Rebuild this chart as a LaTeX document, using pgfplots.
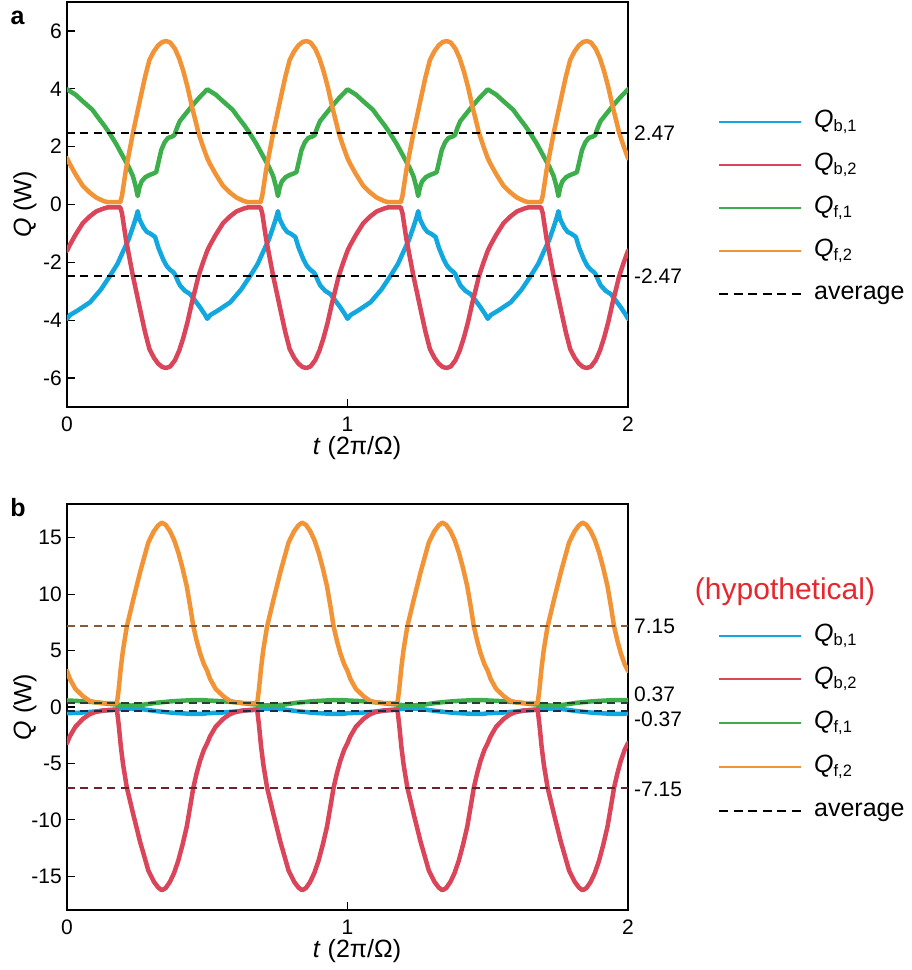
\documentclass[border=0pt]{standalone}
\usepackage{fontspec}
\setmainfont{Liberation Sans}
\usepackage{pgfplots}
\pgfplotsset{compat=1.18}
\definecolor{blueC}{RGB}{19,167,224}
\definecolor{redC}{RGB}{218,69,89}
\definecolor{greenC}{RGB}{60,175,76}
\definecolor{orangeC}{RGB}{242,147,53}
\definecolor{brownD}{RGB}{140,88,48}
\definecolor{maroonD}{RGB}{110,32,44}
\definecolor{greenD}{RGB}{36,64,46}
\definecolor{blueD}{RGB}{26,46,70}
\definecolor{hypo}{RGB}{229,40,46}
\newcommand{\sub}[1]{\raisebox{-4pt}{\fontsize{16.5}{16.5}\selectfont #1}}
\pgfplotsset{
 myaxis/.style={
  scale only axis, width=561pt, xmin=0, xmax=2, clip mode=individual,
  axis line style={line width=1.3pt, black},
  tick align=inside, tick pos=left, major tick length=8pt,
  tick style={line width=1.3pt, black},
  xtick={0,1,2}, xticklabels={0,1,2},
  ticklabel style={font=\fontsize{21}{25}\selectfont},
  yticklabel style={inner sep=0pt, xshift=-5pt},
  xticklabel style={inner sep=0pt, yshift=-10pt},
  label style={font=\fontsize{25}{30}\selectfont},
  xlabel={\textit{t} (2π/Ω)},
  ylabel={\textit{Q} (W)},
  xlabel style={at={(axis description cs:0.517,0)}, anchor=center, yshift=-41pt},
  ylabel style={at={(axis description cs:-0.075,0.5)}, anchor=center},
  legend cell align=left,
  legend image code/.code={\draw[##1] (0pt,0pt) -- (82pt,0pt);},
  legend style={draw=none, fill=none, inner sep=0pt, column sep=12pt, row sep=18pt,
    font=\fontsize{25}{29}\selectfont,
    nodes={inner sep=0pt, text height=18pt, text depth=7pt}},
 },
 curve/.style={line width=4.5pt, line join=round, line cap=round},
 avg/.style={line width=1.9pt, dash pattern=on 8pt off 5.5pt},
}
\begin{document}
\begin{tikzpicture}
\useasboundingbox (0,0) rectangle (912pt,-970pt);
\node[font=\fontsize{25}{30}\selectfont\bfseries] at (17.5pt,-17.5pt) {a};
\node[font=\fontsize{25}{30}\selectfont\bfseries] at (18pt,-508pt) {b};
% ---------------- panel a
\begin{axis}[myaxis, height=405pt, at={(67pt,-407pt)}, anchor=south west,
  ymin=-7, ymax=7, ytick={-6,-4,-2,0,2,4,6}, yticklabels={-6,-4,-2,0,2,4,6},
  legend style={at={(axis description cs:1.1604,0.7353)}, anchor=north west}]
\addlegendimage{blueC, line width=2pt}\addlegendentry{\textit{Q}\sub{b,1}}
\addlegendimage{redC, line width=2pt}\addlegendentry{\textit{Q}\sub{b,2}}
\addlegendimage{greenC, line width=2pt}\addlegendentry{\textit{Q}\sub{f,1}}
\addlegendimage{orangeC, line width=2pt}\addlegendentry{\textit{Q}\sub{f,2}}
\addlegendimage{black, line width=1.6pt, dash pattern=on 9pt off 5.5pt}\addlegendentry{average}
% Q_b1
\addplot[curve, blueC, forget plot] table {
0 -3.95
0.011 -3.82
0.04 -3.65
0.082 -3.38
0.12 -2.95
0.153 -2.47
0.18 -2.05
0.2 -1.62
0.22 -1.2
0.236 -0.75
0.246 -0.45
0.252 -0.23
0.258 -0.5
0.272 -0.78
0.285 -0.95
0.296 -1.0
0.314 -1.12
0.326 -1.5
0.343 -1.9
0.355 -2.12
0.367 -2.25
0.38 -2.35
0.385 -2.42
0.394 -2.62
0.403 -2.8
0.42 -2.98
0.439 -3.1
0.455 -3.3
0.474 -3.55
0.49 -3.78
0.5 -3.95
0.511 -3.82
0.54 -3.65
0.582 -3.38
0.62 -2.95
0.653 -2.47
0.68 -2.05
0.7 -1.62
0.72 -1.2
0.736 -0.75
0.746 -0.45
0.752 -0.23
0.758 -0.5
0.772 -0.78
0.785 -0.95
0.796 -1.0
0.814 -1.12
0.826 -1.5
0.843 -1.9
0.855 -2.12
0.867 -2.25
0.88 -2.35
0.885 -2.42
0.894 -2.62
0.903 -2.8
0.92 -2.98
0.939 -3.1
0.955 -3.3
0.974 -3.55
0.99 -3.78
1.0 -3.95
1.011 -3.82
1.04 -3.65
1.082 -3.38
1.12 -2.95
1.153 -2.47
1.18 -2.05
1.2 -1.62
1.22 -1.2
1.236 -0.75
1.246 -0.45
1.252 -0.23
1.258 -0.5
1.272 -0.78
1.285 -0.95
1.296 -1.0
1.314 -1.12
1.326 -1.5
1.343 -1.9
1.355 -2.12
1.367 -2.25
1.38 -2.35
1.385 -2.42
1.394 -2.62
1.403 -2.8
1.42 -2.98
1.439 -3.1
1.455 -3.3
1.474 -3.55
1.49 -3.78
1.5 -3.95
1.511 -3.82
1.54 -3.65
1.582 -3.38
1.62 -2.95
1.653 -2.47
1.68 -2.05
1.7 -1.62
1.72 -1.2
1.736 -0.75
1.746 -0.45
1.752 -0.23
1.758 -0.5
1.772 -0.78
1.785 -0.95
1.796 -1.0
1.814 -1.12
1.826 -1.5
1.843 -1.9
1.855 -2.12
1.867 -2.25
1.88 -2.35
1.885 -2.42
1.894 -2.62
1.903 -2.8
1.92 -2.98
1.939 -3.1
1.955 -3.3
1.974 -3.55
1.99 -3.78
2.0 -3.95
};
% Q_b2
\addplot[curve, redC, forget plot] table {
0 -1.6
0.01 -1.4
0.03 -1.05
0.056 -0.65
0.08 -0.42
0.104 -0.24
0.13 -0.14
0.145 -0.1
0.19 -0.1
0.196 -0.3
0.21 -1.2
0.235 -2.47
0.26 -3.6
0.278 -4.4
0.294 -5.0
0.31 -5.3
0.325 -5.5
0.34 -5.62
0.354 -5.65
0.368 -5.6
0.385 -5.38
0.4 -5.05
0.415 -4.6
0.43 -4.05
0.445 -3.4
0.458 -2.9
0.468 -2.5
0.485 -2.0
0.5 -1.6
0.51 -1.4
0.53 -1.05
0.556 -0.65
0.58 -0.42
0.604 -0.24
0.63 -0.14
0.645 -0.1
0.69 -0.1
0.696 -0.3
0.71 -1.2
0.735 -2.47
0.76 -3.6
0.778 -4.4
0.794 -5.0
0.81 -5.3
0.825 -5.5
0.84 -5.62
0.854 -5.65
0.868 -5.6
0.885 -5.38
0.9 -5.05
0.915 -4.6
0.93 -4.05
0.945 -3.4
0.958 -2.9
0.968 -2.5
0.985 -2.0
1.0 -1.6
1.01 -1.4
1.03 -1.05
1.056 -0.65
1.08 -0.42
1.104 -0.24
1.13 -0.14
1.145 -0.1
1.19 -0.1
1.196 -0.3
1.21 -1.2
1.235 -2.47
1.26 -3.6
1.278 -4.4
1.294 -5.0
1.31 -5.3
1.325 -5.5
1.34 -5.62
1.354 -5.65
1.368 -5.6
1.385 -5.38
1.4 -5.05
1.415 -4.6
1.43 -4.05
1.445 -3.4
1.458 -2.9
1.468 -2.5
1.485 -2.0
1.5 -1.6
1.51 -1.4
1.53 -1.05
1.556 -0.65
1.58 -0.42
1.604 -0.24
1.63 -0.14
1.645 -0.1
1.69 -0.1
1.696 -0.3
1.71 -1.2
1.735 -2.47
1.76 -3.6
1.778 -4.4
1.794 -5.0
1.81 -5.3
1.825 -5.5
1.84 -5.62
1.854 -5.65
1.868 -5.6
1.885 -5.38
1.9 -5.05
1.915 -4.6
1.93 -4.05
1.945 -3.4
1.958 -2.9
1.968 -2.5
1.985 -2.0
2.0 -1.6
};
% Q_f1
\addplot[curve, greenC, forget plot] table {
0 3.98
0.03 3.8
0.056 3.57
0.09 3.28
0.116 2.94
0.135 2.7
0.151 2.47
0.175 2.1
0.199 1.67
0.22 1.3
0.235 0.98
0.245 0.62
0.252 0.29
0.258 0.58
0.266 0.8
0.28 0.95
0.294 1.02
0.31 1.08
0.318 1.12
0.327 1.5
0.336 1.88
0.348 2.15
0.36 2.3
0.375 2.35
0.383 2.4
0.392 2.65
0.402 2.88
0.42 3.1
0.445 3.4
0.47 3.68
0.49 3.88
0.5 3.98
0.53 3.8
0.556 3.57
0.59 3.28
0.616 2.94
0.635 2.7
0.651 2.47
0.675 2.1
0.699 1.67
0.72 1.3
0.735 0.98
0.745 0.62
0.752 0.29
0.758 0.58
0.766 0.8
0.78 0.95
0.794 1.02
0.81 1.08
0.818 1.12
0.827 1.5
0.836 1.88
0.848 2.15
0.86 2.3
0.875 2.35
0.883 2.4
0.892 2.65
0.902 2.88
0.92 3.1
0.945 3.4
0.97 3.68
0.99 3.88
1.0 3.98
1.03 3.8
1.056 3.57
1.09 3.28
1.116 2.94
1.135 2.7
1.151 2.47
1.175 2.1
1.199 1.67
1.22 1.3
1.235 0.98
1.245 0.62
1.252 0.29
1.258 0.58
1.266 0.8
1.28 0.95
1.294 1.02
1.31 1.08
1.318 1.12
1.327 1.5
1.336 1.88
1.348 2.15
1.36 2.3
1.375 2.35
1.383 2.4
1.392 2.65
1.402 2.88
1.42 3.1
1.445 3.4
1.47 3.68
1.49 3.88
1.5 3.98
1.53 3.8
1.556 3.57
1.59 3.28
1.616 2.94
1.635 2.7
1.651 2.47
1.675 2.1
1.699 1.67
1.72 1.3
1.735 0.98
1.745 0.62
1.752 0.29
1.758 0.58
1.766 0.8
1.78 0.95
1.794 1.02
1.81 1.08
1.818 1.12
1.827 1.5
1.836 1.88
1.848 2.15
1.86 2.3
1.875 2.35
1.883 2.4
1.892 2.65
1.902 2.88
1.92 3.1
1.945 3.4
1.97 3.68
1.99 3.88
2.0 3.98
};
% Q_f2
\addplot[curve, orangeC, forget plot] table {
0 1.6
0.01 1.4
0.03 1.05
0.056 0.65
0.08 0.42
0.104 0.24
0.13 0.12
0.145 0.08
0.19 0.08
0.196 0.3
0.21 1.2
0.235 2.47
0.26 3.6
0.278 4.4
0.294 5.0
0.31 5.3
0.325 5.5
0.34 5.62
0.354 5.65
0.368 5.6
0.385 5.38
0.4 5.05
0.415 4.6
0.43 4.05
0.445 3.4
0.458 2.9
0.468 2.5
0.485 2.0
0.5 1.6
0.51 1.4
0.53 1.05
0.556 0.65
0.58 0.42
0.604 0.24
0.63 0.12
0.645 0.08
0.69 0.08
0.696 0.3
0.71 1.2
0.735 2.47
0.76 3.6
0.778 4.4
0.794 5.0
0.81 5.3
0.825 5.5
0.84 5.62
0.854 5.65
0.868 5.6
0.885 5.38
0.9 5.05
0.915 4.6
0.93 4.05
0.945 3.4
0.958 2.9
0.968 2.5
0.985 2.0
1.0 1.6
1.01 1.4
1.03 1.05
1.056 0.65
1.08 0.42
1.104 0.24
1.13 0.12
1.145 0.08
1.19 0.08
1.196 0.3
1.21 1.2
1.235 2.47
1.26 3.6
1.278 4.4
1.294 5.0
1.31 5.3
1.325 5.5
1.34 5.62
1.354 5.65
1.368 5.6
1.385 5.38
1.4 5.05
1.415 4.6
1.43 4.05
1.445 3.4
1.458 2.9
1.468 2.5
1.485 2.0
1.5 1.6
1.51 1.4
1.53 1.05
1.556 0.65
1.58 0.42
1.604 0.24
1.63 0.12
1.645 0.08
1.69 0.08
1.696 0.3
1.71 1.2
1.735 2.47
1.76 3.6
1.778 4.4
1.794 5.0
1.81 5.3
1.825 5.5
1.84 5.62
1.854 5.65
1.868 5.6
1.885 5.38
1.9 5.05
1.915 4.6
1.93 4.05
1.945 3.4
1.958 2.9
1.968 2.5
1.985 2.0
2.0 1.6
};
\addplot[avg, black, forget plot] coordinates {(0,2.47) (2,2.47)};
\addplot[avg, black, forget plot] coordinates {(0,-2.47) (2,-2.47)};
\node[anchor=west, font=\fontsize{21}{25}\selectfont, inner sep=0pt, xshift=6pt] at (axis cs:2,2.47) {2.47};
\node[anchor=west, font=\fontsize{21}{25}\selectfont, inner sep=0pt, xshift=6pt] at (axis cs:2,-2.47) {-2.47};
\end{axis}
% ---------------- panel b
\begin{axis}[myaxis, height=406pt, at={(67pt,-910pt)}, anchor=south west,
  ymin=-18, ymax=18, ytick={-15,-10,-5,0,5,10,15}, yticklabels={-15,-10,-5,0,5,10,15},
  legend style={at={(axis description cs:1.1604,0.707)}, anchor=north west, row sep=18.8pt}]
\addlegendimage{blueC, line width=2pt}\addlegendentry{\textit{Q}\sub{b,1}}
\addlegendimage{redC, line width=2pt}\addlegendentry{\textit{Q}\sub{b,2}}
\addlegendimage{greenC, line width=2pt}\addlegendentry{\textit{Q}\sub{f,1}}
\addlegendimage{orangeC, line width=2pt}\addlegendentry{\textit{Q}\sub{f,2}}
\addlegendimage{black, line width=1.6pt, dash pattern=on 9pt off 5.5pt}\addlegendentry{average}
% Q_b1
\addplot[curve, blueC, forget plot] table {
0 -0.55
0.05 -0.5
0.1 -0.4
0.15 -0.27
0.2 -0.16
0.23 -0.13
0.27 -0.2
0.32 -0.37
0.38 -0.52
0.44 -0.6
0.48 -0.62
0.5 -0.55
0.55 -0.5
0.6 -0.4
0.65 -0.27
0.7 -0.16
0.73 -0.13
0.77 -0.2
0.82 -0.37
0.88 -0.52
0.94 -0.6
0.98 -0.62
1.0 -0.55
1.05 -0.5
1.1 -0.4
1.15 -0.27
1.2 -0.16
1.23 -0.13
1.27 -0.2
1.32 -0.37
1.38 -0.52
1.44 -0.6
1.48 -0.62
1.5 -0.55
1.55 -0.5
1.6 -0.4
1.65 -0.27
1.7 -0.16
1.73 -0.13
1.77 -0.2
1.82 -0.37
1.88 -0.52
1.94 -0.6
1.98 -0.62
2.0 -0.55
};
% Q_b2
\addplot[curve, redC, forget plot] table {
0 -3.2
0.01 -2.6
0.03 -1.75
0.057 -1.05
0.08 -0.65
0.1 -0.45
0.13 -0.3
0.178 -0.25
0.184 -1.5
0.192 -3.5
0.2 -5.1
0.213 -7.1
0.236 -9.5
0.26 -11.9
0.29 -14.5
0.31 -15.5
0.325 -16.0
0.338 -16.25
0.352 -16.05
0.367 -15.5
0.382 -14.7
0.397 -13.6
0.412 -12.2
0.427 -10.6
0.44 -8.7
0.45 -7.2
0.462 -5.9
0.474 -4.8
0.488 -3.8
0.5 -3.2
0.51 -2.6
0.53 -1.75
0.557 -1.05
0.58 -0.65
0.6 -0.45
0.63 -0.3
0.678 -0.25
0.684 -1.5
0.692 -3.5
0.7 -5.1
0.713 -7.1
0.736 -9.5
0.76 -11.9
0.79 -14.5
0.81 -15.5
0.825 -16.0
0.838 -16.25
0.852 -16.05
0.867 -15.5
0.882 -14.7
0.897 -13.6
0.912 -12.2
0.927 -10.6
0.94 -8.7
0.95 -7.2
0.962 -5.9
0.974 -4.8
0.988 -3.8
1.0 -3.2
1.01 -2.6
1.03 -1.75
1.057 -1.05
1.08 -0.65
1.1 -0.45
1.13 -0.3
1.178 -0.25
1.184 -1.5
1.192 -3.5
1.2 -5.1
1.213 -7.1
1.236 -9.5
1.26 -11.9
1.29 -14.5
1.31 -15.5
1.325 -16.0
1.338 -16.25
1.352 -16.05
1.367 -15.5
1.382 -14.7
1.397 -13.6
1.412 -12.2
1.427 -10.6
1.44 -8.7
1.45 -7.2
1.462 -5.9
1.474 -4.8
1.488 -3.8
1.5 -3.2
1.51 -2.6
1.53 -1.75
1.557 -1.05
1.58 -0.65
1.6 -0.45
1.63 -0.3
1.678 -0.25
1.684 -1.5
1.692 -3.5
1.7 -5.1
1.713 -7.1
1.736 -9.5
1.76 -11.9
1.79 -14.5
1.81 -15.5
1.825 -16.0
1.838 -16.25
1.852 -16.05
1.867 -15.5
1.882 -14.7
1.897 -13.6
1.912 -12.2
1.927 -10.6
1.94 -8.7
1.95 -7.2
1.962 -5.9
1.974 -4.8
1.988 -3.8
2.0 -3.2
};
% Q_f1
\addplot[curve, greenC, forget plot] table {
0 0.58
0.05 0.52
0.1 0.42
0.15 0.28
0.2 0.16
0.23 0.13
0.27 0.2
0.32 0.38
0.38 0.52
0.44 0.6
0.48 0.62
0.5 0.58
0.55 0.52
0.6 0.42
0.65 0.28
0.7 0.16
0.73 0.13
0.77 0.2
0.82 0.38
0.88 0.52
0.94 0.6
0.98 0.62
1.0 0.58
1.05 0.52
1.1 0.42
1.15 0.28
1.2 0.16
1.23 0.13
1.27 0.2
1.32 0.38
1.38 0.52
1.44 0.6
1.48 0.62
1.5 0.58
1.55 0.52
1.6 0.42
1.65 0.28
1.7 0.16
1.73 0.13
1.77 0.2
1.82 0.38
1.88 0.52
1.94 0.6
1.98 0.62
2.0 0.58
};
% Q_f2
\addplot[curve, orangeC, forget plot] table {
0 3.2
0.01 2.5
0.03 1.6
0.057 0.96
0.08 0.55
0.1 0.42
0.13 0.35
0.178 0.35
0.184 1.5
0.192 3.5
0.2 5.1
0.213 7.1
0.236 9.5
0.26 11.9
0.29 14.6
0.31 15.6
0.325 16.1
0.338 16.35
0.352 16.15
0.367 15.6
0.382 14.8
0.397 13.7
0.412 12.3
0.427 10.7
0.44 8.8
0.45 7.2
0.462 5.9
0.474 4.8
0.488 3.8
0.5 3.2
0.51 2.5
0.53 1.6
0.557 0.96
0.58 0.55
0.6 0.42
0.63 0.35
0.678 0.35
0.684 1.5
0.692 3.5
0.7 5.1
0.713 7.1
0.736 9.5
0.76 11.9
0.79 14.6
0.81 15.6
0.825 16.1
0.838 16.35
0.852 16.15
0.867 15.6
0.882 14.8
0.897 13.7
0.912 12.3
0.927 10.7
0.94 8.8
0.95 7.2
0.962 5.9
0.974 4.8
0.988 3.8
1.0 3.2
1.01 2.5
1.03 1.6
1.057 0.96
1.08 0.55
1.1 0.42
1.13 0.35
1.178 0.35
1.184 1.5
1.192 3.5
1.2 5.1
1.213 7.1
1.236 9.5
1.26 11.9
1.29 14.6
1.31 15.6
1.325 16.1
1.338 16.35
1.352 16.15
1.367 15.6
1.382 14.8
1.397 13.7
1.412 12.3
1.427 10.7
1.44 8.8
1.45 7.2
1.462 5.9
1.474 4.8
1.488 3.8
1.5 3.2
1.51 2.5
1.53 1.6
1.557 0.96
1.58 0.55
1.6 0.42
1.63 0.35
1.678 0.35
1.684 1.5
1.692 3.5
1.7 5.1
1.713 7.1
1.736 9.5
1.76 11.9
1.79 14.6
1.81 15.6
1.825 16.1
1.838 16.35
1.852 16.15
1.867 15.6
1.882 14.8
1.897 13.7
1.912 12.3
1.927 10.7
1.94 8.8
1.95 7.2
1.962 5.9
1.974 4.8
1.988 3.8
2.0 3.2
};
\addplot[avg, brownD, forget plot] coordinates {(0,7.15) (2,7.15)};
\addplot[avg, greenD, forget plot] coordinates {(0,0.37) (2,0.37)};
\addplot[avg, blueD, forget plot] coordinates {(0,-0.37) (2,-0.37)};
\addplot[avg, maroonD, forget plot] coordinates {(0,-7.15) (2,-7.15)};
\node[anchor=west, font=\fontsize{21}{25}\selectfont, inner sep=0pt, xshift=6pt] at (axis cs:2,7.15) {7.15};
\node[anchor=west, font=\fontsize{21}{25}\selectfont, inner sep=0pt, xshift=6pt] at (axis cs:2,1.11) {0.37};
\node[anchor=west, font=\fontsize{21}{25}\selectfont, inner sep=0pt, xshift=6pt] at (axis cs:2,-1.05) {-0.37};
\node[anchor=west, font=\fontsize{21}{25}\selectfont, inner sep=0pt, xshift=6pt] at (axis cs:2,-7.3) {-7.15};
\node[font=\fontsize{30}{36}\selectfont, text=hypo] at (axis description cs:1.2799,0.784) {(hypothetical)};
\end{axis}
\end{tikzpicture}
\end{document}
